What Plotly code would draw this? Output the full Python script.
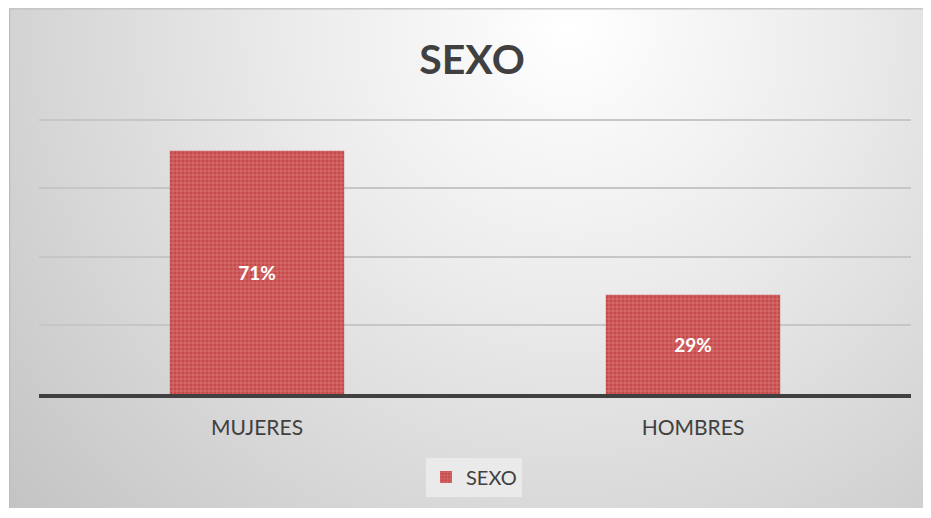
import base64
import plotly.graph_objects as go

categories = ["MUJERES", "HOMBRES"]
values = [0.71, 0.29]
labels = ["71%", "29%"]
series_name = "SEXO"
title_text = "SEXO"

svg = """<svg xmlns='http://www.w3.org/2000/svg' width='922' height='511' viewBox='0 0 922 511'>
<defs><radialGradient id='g' gradientUnits='userSpaceOnUse' cx='560' cy='20' r='760'>
<stop offset='0' stop-color='#ffffff'/><stop offset='0.35' stop-color='#ececec'/><stop offset='1' stop-color='#c2c2c2'/>
</radialGradient></defs>
<rect x='0' y='0' width='922' height='511' fill='url(#g)'/>
<rect x='0.5' y='0.5' width='930' height='520' fill='none' stroke='#bdbdbd' stroke-width='1.5'/>
</svg>"""
src = "data:image/svg+xml;base64," + base64.b64encode(svg.encode()).decode()

fig = go.Figure()
fig.add_trace(go.Bar(
    x=categories, y=values, name=series_name, text=labels,
    textposition="inside", insidetextanchor="middle",
    textfont=dict(family="Lato", size=19, color="white", weight="bold"),
    marker=dict(color="#c64a4c", line=dict(width=0),
                pattern=dict(shape="+", fgcolor="#eaa5a5", size=4, solidity=0.35)),
    width=0.4, showlegend=True,
))

# page body has an 8px offset; figure coordinates are shifted accordingly
OFF = 8
EXTRA = 3  # room above the top gridline so it is drawn
W, H = 931 - 2 * OFF, 518 - 2 * OFF - 2
L, T = 39 - OFF, 120 - OFF - EXTRA
R = W - (911 - OFF)
B = H - (397 - OFF)
pw, ph = W - L - R, H - T - B
ymax = 0.8 * ph / (ph - EXTRA)

fig.update_layout(
    width=W, height=H,
    margin=dict(l=L, r=R, t=T, b=B),
    paper_bgcolor="white", plot_bgcolor="rgba(0,0,0,0)",
    title=dict(text="<b>" + title_text + "</b>", xref="paper",
               x=(472 - OFF - L) / pw, xanchor="center",
               y=1 - (60 - OFF) / H, yanchor="middle",
               font=dict(family="Lato", size=41, color="#404040")),
    images=[dict(source=src, xref="paper", yref="paper",
                 x=(9 - OFF - L) / pw, y=(H - B - (7 - OFF)) / ph,
                 sizex=922 / pw, sizey=511 / ph,
                 xanchor="left", yanchor="top", sizing="stretch", layer="below")],
    xaxis=dict(showline=True, linecolor="#404040", linewidth=4, showgrid=False,
               ticks="", ticklabelstandoff=12,
               tickfont=dict(family="Lato", size=21, color="#404040")),
    yaxis=dict(range=[0, ymax], dtick=0.2, showgrid=True, gridcolor="#c6c6c6",
               gridwidth=1.5, showticklabels=False, zeroline=False, fixedrange=True),
    legend=dict(orientation="h", x=(474 - OFF - L) / pw, xanchor="center",
                y=(H - B - (481 - OFF)) / ph,
                yanchor="middle", bgcolor="rgba(236,236,236,0.85)",
                font=dict(family="Lato", size=20, color="#404040"),
                itemwidth=30),
    bargap=0.6,
)

fig.write_html("out.html")
